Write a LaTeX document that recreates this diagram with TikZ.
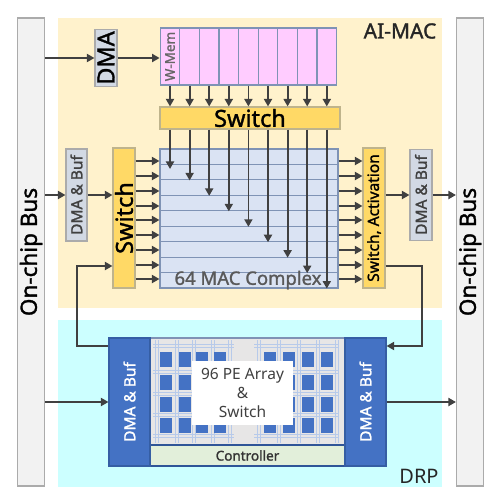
\documentclass[tikz,border=0pt]{standalone}
\usepackage{fontspec}
\setmainfont{Noto Sans}[BoldFont={Noto Sans},BoldFeatures={FakeBold=1.4}]
\usetikzlibrary{arrows.meta}
\definecolor{busfill}{HTML}{F2F2F2}
\definecolor{busline}{HTML}{ABABAB}
\definecolor{macbg}{HTML}{FFF2CC}
\definecolor{drpbg}{HTML}{CCFFFF}
\definecolor{memfill}{HTML}{FFCCFF}
\definecolor{boxline}{HTML}{7F93B5}
\definecolor{swfill}{HTML}{FFD966}
\definecolor{swline}{HTML}{BFB48C}
\definecolor{macfill}{HTML}{DAE3F3}
\definecolor{buffill}{HTML}{D2D9E4}
\definecolor{peblue}{HTML}{4472C4}
\definecolor{peline}{HTML}{2F5597}
\definecolor{pegrid}{HTML}{B7CAEA}
\definecolor{pefill}{HTML}{E7E6E6}
\definecolor{ctrlfill}{HTML}{E2EFDA}
\definecolor{flowcol}{HTML}{404040}
\newcommand{\rot}[1]{\rotatebox{90}{#1}}
\newcommand{\fsz}[1]{\fontsize{#1}{#1}\selectfont\bfseries}
\tikzset{
    box/.style={draw,line width=1.1pt,inner sep=0pt,align=center},
    busbox/.style={box,fill=busfill,draw=busline,minimum width=27,minimum height=468},
    bufbox/.style={box,fill=buffill,draw=busline,text=flowcol},
    swbox/.style={box,fill=swfill,draw=swline},
    cellbox/.style={box,fill=memfill,draw=boxline,minimum width=19.7,minimum height=57},
    rowbox/.style={box,fill=macfill,draw=boxline,minimum width=178,minimum height=15.45},
    drpbox/.style={box,fill=peblue,draw=peline!70!peblue,text=white,minimum width=41,minimum height=128},
    flow/.style={draw=flowcol,line width=1.8pt,-{Triangle[length=7.5pt,width=8pt]}},
    pecell/.style={fill=peblue},
    gridline/.style={draw=pegrid,line width=.9pt}
}
\begin{document}
\begin{tikzpicture}[x=1pt,y=-1pt]
    \useasboundingbox (0,0) rectangle (503,498);
    % backgrounds
    \fill[macbg] (58,18) rectangle (442,308);
    \fill[drpbg] (58,320) rectangle (442,487);
    \node[font=\fsz{21},text=black!85,inner sep=0pt] (aimac) at (400,31) {AI-MAC};
    \node[font=\fontsize{20}{20}\selectfont,text=black!85,inner sep=0pt] (drp) at (419,476) {DRP};
    % buses
    \node[busbox,font=\fsz{22.5}] (busl) at (31,252) {\rot{On-chip Bus}};
    \node[busbox,font=\fsz{22.5}] (busr) at (470,252) {\rot{On-chip Bus}};
    % W-Mem
    \node[bufbox,text=black,minimum width=22,minimum height=57,font=\fsz{23.5}] (dma) at (106,58) {\rot{DMA}};
    \foreach \i [evaluate=\i as \xx using 170+(\i-1)*19.6] in {1,...,9} {
        \node[cellbox] (cell\i) at (\xx,56.5) {};
    }
    \node[font=\fsz{13.5},text=black!60,inner sep=0pt] (wmem) at (cell1) {\rot{W-Mem}};
    \node[swbox,minimum width=180,minimum height=22,font=\fsz{23.5}] (swtop) at (250,118) {Switch};
    % MAC rows
    \foreach \i [evaluate=\i as \yy using 156.7+(\i-1)*15.45] in {1,...,9} {
        \node[rowbox] (row\i) at (249,\yy) {};
    }
    \node[font=\fsz{18.5},text=black!65,inner sep=0pt] (maclbl) at (248,280) {64 MAC Complex};
    % switches and buffers
    \node[swbox,minimum width=22,minimum height=140,font=\fsz{23.5}] (swl) at (124,218) {\rot{Switch}};
    \node[swbox,minimum width=22,minimum height=140,font=\fsz{15.5}] (swr) at (374,218) {\rot{Switch, Activation}};
    \node[bufbox,minimum width=21,minimum height=92,font=\fsz{15.5}] (bufl) at (76.5,195) {\rot{DMA \& Buf}};
    \node[bufbox,minimum width=22,minimum height=91,font=\fsz{15.5}] (bufr) at (421,195) {\rot{DMA \& Buf}};
    % connectors, top part
    \draw[flow] (busl.east |- dma.west) -- (dma.west);
    \draw[flow] (dma.east) -- (dma.east -| cell1.west);
    \foreach \i in {1,...,9} {
        \draw[flow] (cell\i.south) -- (cell\i.south |- swtop.north);
    }
    \draw[flow] (cell1.south |- swtop.south) -- ([yshift=-4]cell1.south |- row1.south);
    \foreach \i in {2,...,9} {
        \draw[flow] (cell\i.south |- swtop.south) -- (cell\i.south |- row\i.south);
    }
    \foreach \yy in {161,176,191,206,220,235,250,265,279} {
        \draw[flow] (swl.east |- 0,\yy) -- (row1.west |- 0,\yy);
        \draw[flow] (row1.east |- 0,\yy) -- (swr.west |- 0,\yy);
    }
    \draw[flow] (busl.east |- bufl.west) -- (bufl.west);
    \draw[flow] (bufl.east) -- (swl.west |- bufl.east);
    \draw[flow] (swr.east |- bufr.west) -- (bufr.west);
    \draw[flow] (bufr.east) -- (busr.west |- bufr.east);
    % DRP
    \node[box,fill=pefill,draw=boxline,minimum width=195,minimum height=107] (pe) at (247.5,391.5) {};
    \foreach \xa/\xb in {153/234,254/339} {
        \foreach \yy in {344,347,370,373,392,395,413,416,434,437} {
            \draw[gridline] (\xa,\yy) -- (\xb,\yy);
        }
    }
    \foreach \xx in {155,158,175,178,192,195,211,214,228,231,257,260,277,280,297,300,316,319,335,338} {
        \draw[gridline] (\xx,340) -- (\xx,443);
    }
    \foreach \xx in {160,179,196,214,264,283,302,321} {
        \foreach \yy in {352,375,397,418} {
            \fill[pecell] (\xx,\yy) rectangle ++(11.5,15);
        }
    }
    \node[fill=white,minimum width=101,minimum height=64,inner sep=0pt,align=center,font=\fontsize{15.5}{19}\selectfont,text=black!75] (pelbl) at (242.5,393)
        {96 PE Array\\\&\\Switch};
    \node[box,fill=ctrlfill,draw=peline,minimum width=195,minimum height=21,font=\fsz{13.5},text=black!80] (ctrl) at (247.5,455.5) {Controller};
    \node[drpbox,font=\fsz{15.5}] (drpl) at (129.5,402) {\rot{DMA \& Buf}};
    \node[drpbox,font=\fsz{15.5}] (drpr) at (365.5,402) {\rot{DMA \& Buf}};
    \draw[flow] (busl.east |- drpl.west) -- (drpl.west);
    \draw[flow] (drpr.east) -- (busr.west |- drpr.east);
    % feedback lines
    \coordinate (fbl) at (77,346);
    \coordinate (fbr) at (422,346);
    \draw[flow] (drpl.west |- fbl) -- (fbl) |- (swl.west |- 0,266);
    \draw[flow] (swr.east |- 0,266) -| (fbr) -- (drpr.east |- fbr);
\end{tikzpicture}
\end{document}
